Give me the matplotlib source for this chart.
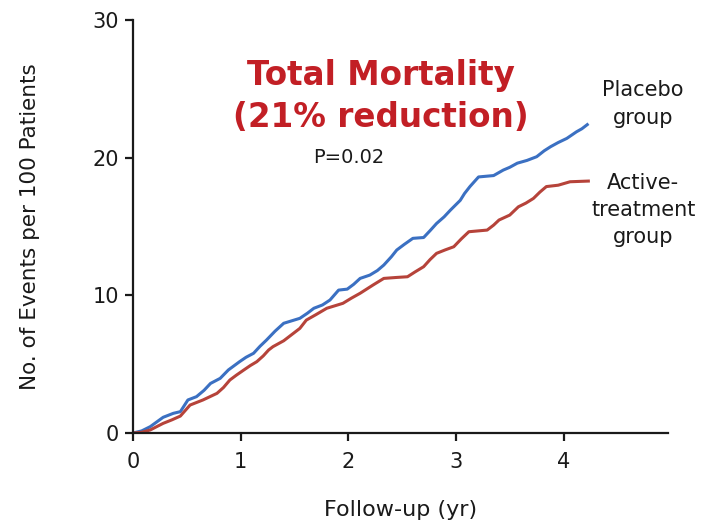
#!/usr/bin/env python3
import matplotlib
matplotlib.use('Agg')
import matplotlib.pyplot as plt

# cumulative events per 100 patients
placebo_t = [0, 0.08, 0.16, 0.22, 0.28, 0.375, 0.44, 0.51, 0.59, 0.66, 0.72,
             0.81, 0.886, 0.99, 1.05, 1.12, 1.18, 1.24, 1.32, 1.40, 1.55, 1.62,
             1.68, 1.76, 1.83, 1.91, 1.99, 2.05, 2.11, 2.20, 2.27, 2.33, 2.40,
             2.45, 2.52, 2.60, 2.70, 2.76, 2.82, 2.89, 2.95, 3.04, 3.08, 3.13,
             3.21, 3.35, 3.44, 3.50, 3.57, 3.66, 3.75, 3.82, 3.88, 3.95, 4.03,
             4.12, 4.17, 4.22]
placebo_y = [0, 0.15, 0.46, 0.8, 1.14, 1.43, 1.55, 2.4, 2.64, 3.1, 3.6,
             3.97, 4.58, 5.18, 5.5, 5.79, 6.3, 6.75, 7.4, 7.97, 8.33, 8.7,
             9.06, 9.3, 9.66, 10.38, 10.45, 10.8, 11.23, 11.47, 11.8, 12.2, 12.8,
             13.29, 13.7, 14.14, 14.2, 14.7, 15.22, 15.7, 16.2, 16.9, 17.4, 17.9,
             18.6, 18.7, 19.1, 19.3, 19.6, 19.8, 20.07, 20.5, 20.8, 21.1, 21.4,
             21.88, 22.1, 22.4]

active_t = [0, 0.08, 0.16, 0.28, 0.36, 0.44, 0.53, 0.65, 0.78, 0.84, 0.90,
            0.96, 1.03, 1.09, 1.15, 1.21, 1.26, 1.30, 1.40, 1.49, 1.55, 1.61,
            1.70, 1.80, 1.95, 2.03, 2.11, 2.17, 2.23, 2.33, 2.45, 2.55, 2.62,
            2.70, 2.76, 2.82, 2.90, 2.98, 3.05, 3.12, 3.29, 3.35, 3.40, 3.50,
            3.58, 3.65, 3.72, 3.78, 3.84, 3.95, 4.06, 4.23]
active_y = [0, 0.05, 0.22, 0.7, 0.95, 1.23, 2.03, 2.4, 2.88, 3.3, 3.85,
            4.2, 4.58, 4.9, 5.18, 5.6, 6.03, 6.27, 6.7, 7.24, 7.6, 8.2,
            8.6, 9.06, 9.42, 9.8, 10.15, 10.45, 10.75, 11.23, 11.3, 11.35, 11.7,
            12.08, 12.6, 13.05, 13.3, 13.53, 14.1, 14.62, 14.74, 15.1, 15.47, 15.83,
            16.43, 16.7, 17.04, 17.5, 17.9, 18.0, 18.25, 18.3]

x_ticks = [0, 1, 2, 3, 4]
y_ticks = [0, 10, 20, 30]

BLUE = '#3b70c2'
RED = '#b6433a'
TITLE_RED = '#c21f25'
INK = '#1a1a1a'


def main():
    fig = plt.figure(figsize=(7.06, 5.21), dpi=100)
    ax = fig.add_axes([133 / 706, 1 - 433 / 521, 535 / 706, 413 / 521])

    ax.plot(placebo_t, placebo_y, color=BLUE, lw=2.2)
    ax.plot(active_t, active_y, color=RED, lw=2.2)

    ax.set_xlim(0, 4.97)
    ax.set_ylim(0, 30)
    ax.set_xticks(x_ticks)
    ax.set_yticks(y_ticks)

    for side in ('top', 'right'):
        ax.spines[side].set_visible(False)
    for side in ('left', 'bottom'):
        ax.spines[side].set_linewidth(1.6)
        ax.spines[side].set_color(INK)
    ax.tick_params(direction='out', length=6, width=1.6, color=INK,
                   labelsize=15, labelcolor=INK)
    ax.tick_params(axis='x', pad=8)
    ax.tick_params(axis='y', pad=4)

    ax.set_xlabel('Follow-up (yr)', fontsize=16, color=INK, labelpad=20)
    ax.set_ylabel('No. of Events per 100 Patients', fontsize=15.5,
                  color=INK, labelpad=38)

    ax.text(2.30, 26.0, 'Total Mortality', fontsize=23.5, fontweight='bold',
            color=TITLE_RED, ha='center', va='center')
    ax.text(2.30, 22.95, '(21% reduction)', fontsize=23.5, fontweight='bold',
            color=TITLE_RED, ha='center', va='center')
    ax.text(2.0, 20.0, 'P=0.02', fontsize=14, color=INK,
            ha='center', va='center')

    ax.text(4.74, 23.9, 'Placebo\ngroup', fontsize=15, color=INK,
            ha='center', va='center', linespacing=1.5, clip_on=False)
    ax.text(4.74, 16.2, 'Active-\ntreatment\ngroup', fontsize=15,
            color=INK, ha='center', va='center', linespacing=1.45,
            clip_on=False)

    fig.savefig('out.png', dpi=100)


if __name__ == '__main__':
    main()
